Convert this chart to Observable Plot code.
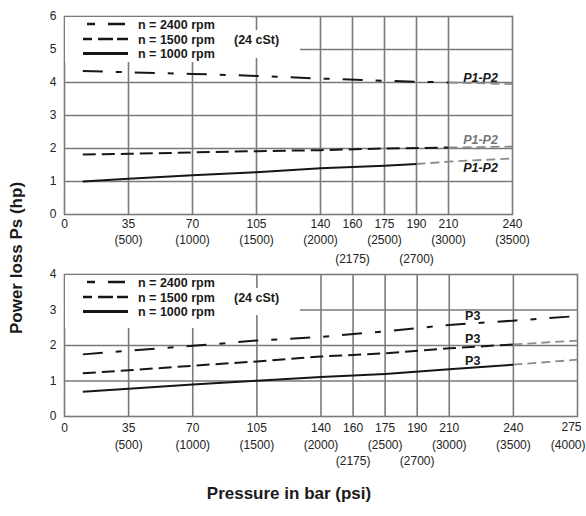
<!DOCTYPE html>
<html><head><meta charset="utf-8">
<script src="https://cdn.jsdelivr.net/npm/d3@7"></script>
<script src="https://cdn.jsdelivr.net/npm/@observablehq/plot@0.6"></script>
<style>
body{margin:0;background:#fff;}
#wrap{position:relative;width:586px;height:516px;font-family:"Liberation Sans",Arial,sans-serif;color:#222;overflow:hidden}
#wrap > svg{display:block}
.ttl{position:absolute;font-weight:bold;font-size:17px;white-space:nowrap;color:#1a1a1a}
</style></head><body><div id="wrap"></div>
<script>
// ---- data ----
const xTicks = [0, 35, 70, 105, 140, 160, 175, 190, 210, 240, 275];
const psiBar = [35, 70, 105, 140, 160, 175, 190, 210, 240, 275];
const psiText = ["(500)", "(1000)", "(1500)", "(2000)", "(2175)", "(2500)", "(2700)", "(3000)", "(3500)", "(4000)"];
const legendNames = ["n = 2400 rpm", "n = 1500 rpm", "n = 1000 rpm"];
const viscosity = "(24 cSt)";

// upper chart (P1-P2), pairs of [bar, hp]
const p12_2400 = [[10, 4.35], [35, 4.31], [70, 4.26], [105, 4.2], [140, 4.12], [175, 4.05], [210, 4.0]];
const p12_2400_ext = [[210, 4.0], [240, 3.95]];
const p12_1500 = [[10, 1.82], [35, 1.84], [70, 1.88], [105, 1.92], [140, 1.95], [175, 2.0], [210, 2.03]];
const p12_1500_ext = [[210, 2.03], [240, 2.06]];
const p12_1000 = [[10, 1.0], [35, 1.08], [70, 1.19], [105, 1.28], [140, 1.4], [175, 1.48], [190, 1.53]];
const p12_1000_ext = [[190, 1.53], [210, 1.6], [240, 1.7]];
const p12LabelText = "P1-P2";
const p12LabelX = 225;
const p12LabelY = [4.15, 2.27, 1.42];

// lower chart (P3)
const p3_2400 = [[10, 1.75], [35, 1.85], [70, 1.99], [105, 2.14], [140, 2.24], [175, 2.4], [210, 2.58], [240, 2.7], [275, 2.83]];
const p3_1500 = [[10, 1.22], [35, 1.3], [70, 1.43], [105, 1.55], [140, 1.69], [175, 1.78], [210, 1.92], [240, 2.03]];
const p3_1500_ext = [[240, 2.03], [275, 2.14]];
const p3_1000 = [[10, 0.7], [35, 0.78], [70, 0.9], [105, 1.01], [140, 1.11], [175, 1.2], [210, 1.33], [240, 1.46]];
const p3_1000_ext = [[240, 1.46], [275, 1.6]];
const p3LabelText = "P3";
const p3LabelX = 221;
const p3LabelY = [2.82, 2.17, 1.55];

// ---- layout / styles ----
const FONT = '"Liberation Sans", Arial, sans-serif';
const GRID = "#7a7a7a";
const INK = "#161616";
const GREYLINE = "#8c8c8c";
const dash2400 = "20,13,6,13";
const dash1500 = "13,6";
const slotOf = {0:0, 35:1, 70:2, 105:3, 140:4, 160:4.5, 175:5, 190:5.5, 210:6, 240:7, 275:8};
const staggered = new Set([160, 190]);

function panel(cfg) {
  const ticks = xTicks.filter(t => t <= cfg.xmax);
  const maxSlot = slotOf[cfg.xmax];
  const w = 586 - 64 - cfg.mr;
  const range = ticks.map(t => 64 + slotOf[t] / maxSlot * w);
  const edge = cfg.xmax === 275 ? 275 : null; // last label pushed inside the page
  const psiIdx = psiBar.map((b, i) => i).filter(i => psiBar[i] <= cfg.xmax);
  const line = (pts, o) => Plot.line(pts, {x: d => d[0], y: d => d[1], strokeWidth: 2, strokeLinecap: "butt", ...o});
  const lab = {fontSize: 12, fill: "#222", frameAnchor: "bottom"};
  return Plot.plot({
    width: 586, height: cfg.height,
    marginLeft: 64, marginRight: cfg.mr, marginTop: cfg.mt, marginBottom: cfg.mb,
    style: {fontFamily: FONT, fontSize: "12px", color: "#222", background: "transparent", overflow: "visible"},
    x: {type: "linear", domain: ticks, range, axis: null},
    y: {domain: [0, cfg.ymax]},
    marks: [
      Plot.gridX(ticks.filter(t => t > 0 && t < cfg.xmax), {stroke: GRID, strokeOpacity: 1, strokeWidth: 1.6}),
      Plot.gridY(d3.range(1, cfg.ymax), {stroke: GRID, strokeOpacity: 1, strokeWidth: 1.6}),
      Plot.frame({stroke: GRID, strokeWidth: 1.6}),
      Plot.axisY(d3.range(0, cfg.ymax + 1), {tickSize: 0, tickPadding: 8, fontSize: 12, fill: "#222"}),
      Plot.text(ticks.filter(t => t !== edge), {x: d => d, text: d => String(d), dy: cfg.dy[0], ...lab}),
      Plot.text(ticks.filter(t => t === edge), {x: d => d, text: d => String(d), dy: cfg.dy[0] - 1, dx: 4, textAnchor: "end", ...lab}),
      Plot.text(psiIdx.filter(i => !staggered.has(psiBar[i]) && psiBar[i] !== edge), {x: i => psiBar[i], text: i => psiText[i], dy: cfg.dy[1], ...lab}),
      Plot.text(psiIdx.filter(i => psiBar[i] === edge), {x: i => psiBar[i], text: i => psiText[i], dy: cfg.dy[1], dx: 8, textAnchor: "end", ...lab}),
      Plot.text(psiIdx.filter(i => staggered.has(psiBar[i])), {x: i => psiBar[i], text: i => psiText[i], dy: cfg.dy[2], ...lab}),
      ...cfg.ext.map(pts => line(pts, {stroke: GREYLINE, strokeDasharray: "9,5", strokeWidth: 1.8})),
      line(cfg.s2400, {stroke: INK, strokeDasharray: dash2400}),
      line(cfg.s1500, {stroke: INK, strokeDasharray: dash1500}),
      line(cfg.s1000, {stroke: INK}),
      Plot.text(cfg.labY, {x: cfg.labX, y: d => d, text: () => cfg.labText, fill: (d, i) => i === cfg.greyLab ? "#777" : "#1a1a1a",
        fontWeight: "bold", fontStyle: cfg.italic ? "italic" : "normal", fontSize: 12.5})
    ],
    color: {type: "identity"}
  });
}

const wrap = document.getElementById("wrap");
wrap.append(panel({height: 268, mt: 16, mb: 54, mr: 74, xmax: 240, ymax: 6, dy: [13, 29, 48],
  s2400: p12_2400, s1500: p12_1500, s1000: p12_1000, ext: [p12_2400_ext, p12_1500_ext, p12_1000_ext],
  labX: p12LabelX, labY: p12LabelY, labText: p12LabelText, greyLab: 1, italic: true}));
wrap.append(panel({height: 248, mt: 6, mb: 100, mr: 9, xmax: 275, ymax: 4, dy: [15, 32, 48],
  s2400: p3_2400, s1500: p3_1500, s1000: p3_1000, ext: [p3_1500_ext, p3_1000_ext],
  labX: p3LabelX, labY: p3LabelY, labText: p3LabelText, greyLab: -1, italic: false}));

// ---- legends (white boxes over the grid) ----
const NS = "http://www.w3.org/2000/svg";
const ov = document.createElementNS(NS, "svg");
ov.setAttribute("width", 586); ov.setAttribute("height", 516);
ov.style.cssText = "position:absolute;left:0;top:0;pointer-events:none";
function el(tag, attrs, txt) {
  const e = document.createElementNS(NS, tag);
  for (const k in attrs) e.setAttribute(k, attrs[k]);
  if (txt) e.textContent = txt;
  ov.append(e); return e;
}
const legendDash = ["0,4,8,13,17,40", "9,6,15,4,11,40", null];
for (const top of [16, 274]) {
  el("rect", {x: 65, y: top + 1, width: 185, height: 45 + (top > 100 ? 8 : 0), fill: "#fff"});
  el("rect", {x: 250, y: top + 14, width: 50, height: top > 100 ? 27 : 28, fill: "#fff"});
  const rows = [top + 8, top + 23, top + 37.5];
  rows.forEach((y, i) => {
    const a = {x1: 83, x2: 128, y1: y, y2: y, stroke: INK, "stroke-width": i === 2 ? 3 : 2.4};
    if (legendDash[i]) a["stroke-dasharray"] = legendDash[i];
    el("line", a);
    el("text", {x: 138, y: y + 4.5, "font-family": FONT, "font-size": 12.5, "font-weight": "bold", fill: "#1a1a1a"}, legendNames[i]);
  });
  el("text", {x: 234, y: rows[1] + 4.5, "font-family": FONT, "font-size": 12.5, "font-weight": "bold", fill: "#1a1a1a"}, viscosity);
}
wrap.append(ov);

// ---- axis titles ----
const yt = document.createElement("div");
yt.className = "ttl"; yt.textContent = "Power loss Ps (hp)";
yt.style.cssText = "left:17px;top:258px;transform:translate(-50%,-50%) rotate(-90deg)";
wrap.append(yt);
const xt = document.createElement("div");
xt.className = "ttl"; xt.textContent = "Pressure in bar (psi)";
xt.style.cssText = "left:289px;top:494px;transform:translate(-50%,-50%)";
wrap.append(xt);
</script></body></html>
